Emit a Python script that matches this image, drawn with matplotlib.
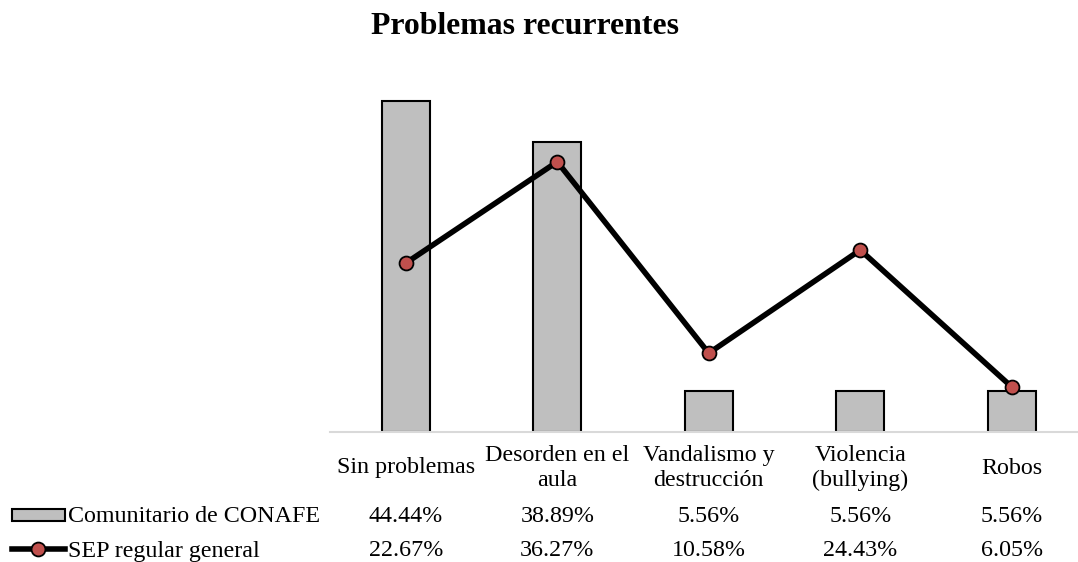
import matplotlib.pyplot as plt
from matplotlib.patches import Rectangle
from matplotlib.lines import Line2D
from matplotlib.transforms import blended_transform_factory
import numpy as np

categories = ['Sin problemas', 'Desorden en el\naula', 'Vandalismo y\ndestrucción',
              'Violencia\n(bullying)', 'Robos']
conafe = [44.44, 38.89, 5.56, 5.56, 5.56]
sep = [22.67, 36.27, 10.58, 24.43, 6.05]
series_names = ['Comunitario de CONAFE', 'SEP regular general']

plt.rcParams['font.family'] = ['Liberation Serif', 'DejaVu Serif']

W, H = 1078, 562
fig = plt.figure(figsize=(W / 100, H / 100), dpi=100)
ax = fig.add_axes([330 / W, 1 - 432 / H, 757.5 / W, 372.5 / H])

x = np.arange(len(categories))
bar_col = '#BFBFBF'
mk_col = '#C0504D'
ax.bar(x, conafe, width=0.317, color=bar_col, edgecolor='black', linewidth=1.5, zorder=2)
ax.plot(x, sep, color='black', lw=4, marker='o', markersize=10,
        markerfacecolor=mk_col, markeredgecolor='black', markeredgewidth=1.3, zorder=3)

ax.set_xlim(-0.5, 4.5)
ax.set_ylim(0, 50)
for s in ['top', 'left', 'right']:
    ax.spines[s].set_visible(False)
ax.spines['bottom'].set_color('#D9D9D9')
ax.spines['bottom'].set_linewidth(1.5)
ax.set_xticks([])
ax.set_yticks([])

fig.text(525 / W, 1 - 26 / H, 'Problemas recurrentes', ha='center', va='center',
         fontsize=22.9, fontweight='bold')

# data table under the axis
tr = blended_transform_factory(ax.transData, fig.transFigure)
fs = 17.3
for i, lab in enumerate(categories):
    ax.text(i, 1 - 468 / H, lab, transform=tr, ha='center', va='center',
            fontsize=fs, linespacing=1.25, clip_on=False)
    ax.text(i, 1 - 517 / H, '%.2f%%' % conafe[i], transform=tr, ha='center',
            va='center', fontsize=fs, clip_on=False)
    ax.text(i, 1 - 551 / H, '%.2f%%' % sep[i], transform=tr, ha='center',
            va='center', fontsize=fs, clip_on=False)

# legend keys
fig.add_artist(Rectangle((12 / W, 1 - 521 / H), 53 / W, 12 / H, transform=fig.transFigure,
                         facecolor=bar_col, edgecolor='black', linewidth=1.5))
fig.add_artist(Line2D([12 / W, 65 / W], [1 - 549 / H] * 2, transform=fig.transFigure,
                      color='black', lw=4))
fig.add_artist(Line2D([38 / W], [1 - 549 / H], transform=fig.transFigure, marker='o',
                      markersize=10, markerfacecolor=mk_col, markeredgecolor='black',
                      markeredgewidth=1.3, linestyle='none'))
fig.text(68 / W, 1 - 517 / H, series_names[0], ha='left', va='center', fontsize=fs)
fig.text(68 / W, 1 - 551 / H, series_names[1], ha='left', va='center', fontsize=fs)

fig.savefig('out.png', dpi=100)
